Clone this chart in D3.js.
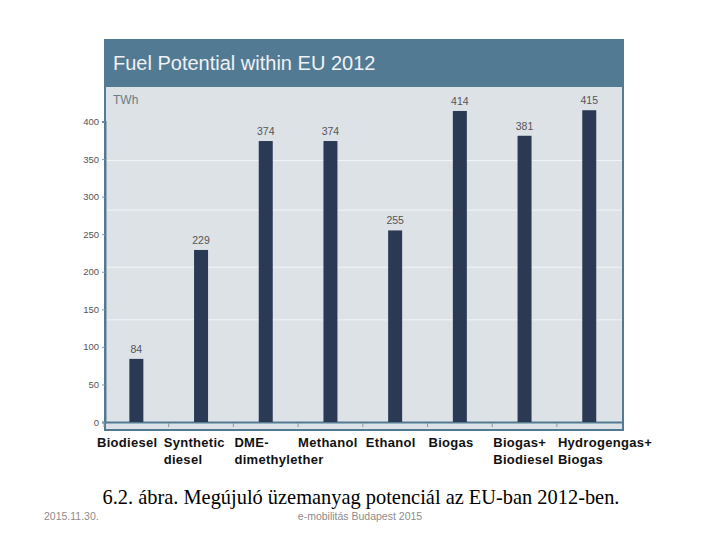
<!DOCTYPE html>
<html>
<head>
<meta charset="utf-8">
<script src="https://cdn.jsdelivr.net/npm/d3@7"></script>
<style>
  body { margin: 0; background: #fff; }
  svg { display: block; }
</style>
</head>
<body>
<svg id="chart" width="720" height="540"></svg>
<script>
var categories = ["Biodiesel", "Synthetic diesel", "DME-dimethylether", "Methanol", "Ethanol", "Biogas", "Biogas+ Biodiesel", "Hydrogengas+ Biogas"];
var labelLines = [["Biodiesel"], ["Synthetic", "diesel"], ["DME-", "dimethylether"], ["Methanol"], ["Ethanol"], ["Biogas"], ["Biogas+", "Biodiesel"], ["Hydrogengas+", "Biogas"]];
var values = [84, 229, 374, 374, 255, 414, 381, 415];
var yTicks = [0, 50, 100, 150, 200, 250, 300, 350, 400];
var gridValues = [136, 206, 282, 348];

// label offsets from the band start (layout only)
var labelDx = [-7, -5, 1, 0, 3, 1, 1, 1];

var svg = d3.select("#chart");
var sans = "Liberation Sans, Arial, sans-serif";

// panel frame + header
svg.append("rect").attr("x", 104).attr("y", 39).attr("width", 520).attr("height", 392)
    .attr("fill", "#537a93");
svg.append("rect").attr("x", 106).attr("y", 87).attr("width", 516).attr("height", 342)
    .attr("fill", "#dce2e6");
svg.append("text").attr("x", 113).attr("y", 70)
    .attr("font-family", sans).attr("font-size", 20)
    .attr("fill", "#eef2f5").text("Fuel Potential within EU 2012");
svg.append("text").attr("x", 113).attr("y", 104)
    .attr("font-family", sans).attr("font-size", 12)
    .attr("fill", "#6b7b88").text("TWh");

var x = d3.scaleBand().domain(categories).range([104, 621.6]).paddingInner(0).paddingOuter(0);
var y = d3.scaleLinear().domain([0, 400]).range([422, 121.5]);
var barW = 14;

// faint gridlines
svg.append("g").selectAll("line").data(gridValues).enter().append("line")
    .attr("x1", 106).attr("x2", 622)
    .attr("y1", function(d) { return y(d); })
    .attr("y2", function(d) { return y(d); })
    .attr("stroke", "#f2f5f7").attr("stroke-width", 1);

// y axis
var yAxis = svg.append("g").attr("transform", "translate(105,0)")
    .call(d3.axisLeft(y).tickValues(yTicks).tickSize(3).tickPadding(3));
yAxis.select(".domain").attr("stroke", "#537a93").attr("stroke-width", 2);
yAxis.selectAll(".tick line").attr("stroke", "#8a98a4");
yAxis.selectAll("text").attr("font-family", sans)
    .attr("font-size", 9.5).attr("fill", "#555");

// x axis baseline and ticks at band starts
svg.append("line").attr("x1", 105).attr("x2", 622).attr("y1", 422.5).attr("y2", 422.5)
    .attr("stroke", "#537a93").attr("stroke-width", 2);
svg.append("g").selectAll("line").data(categories).enter().append("line")
    .attr("x1", function(d) { return x(d); })
    .attr("x2", function(d) { return x(d); })
    .attr("y1", 423).attr("y2", 427)
    .attr("stroke", "#8a98a4");

// bars
svg.append("g").selectAll("rect").data(values).enter().append("rect")
    .attr("x", function(d, i) { return x(categories[i]) + x.bandwidth() / 2 - barW / 2; })
    .attr("y", function(d) { return y(d); })
    .attr("width", barW)
    .attr("height", function(d) { return y(0) - y(d); })
    .attr("fill", "#2a3a55");

// value labels
svg.append("g").selectAll("text").data(values).enter().append("text")
    .attr("x", function(d, i) { return x(categories[i]) + x.bandwidth() / 2; })
    .attr("y", function(d) { return y(d) - 6; })
    .attr("text-anchor", "middle")
    .attr("font-family", sans).attr("font-size", 10.5)
    .attr("fill", "#555").text(function(d) { return d; });

// category labels
var cat = svg.append("g").selectAll("text").data(labelLines).enter().append("text")
    .attr("x", function(d, i) { return x(categories[i]) + labelDx[i]; })
    .attr("y", 447)
    .attr("font-family", sans).attr("font-size", 13)
    .attr("letter-spacing", 0.3)
    .attr("font-weight", "bold").attr("fill", "#111");
cat.selectAll("tspan").data(function(d) { return d; }).enter().append("tspan")
    .attr("x", function() { return d3.select(this.parentNode).attr("x"); })
    .attr("dy", function(d, i) { return i === 0 ? 0 : 17; })
    .text(function(d) { return d; });

// caption and footer
svg.append("text").attr("x", 361).attr("y", 504).attr("text-anchor", "middle")
    .attr("font-family", "Liberation Serif, Times New Roman, serif").attr("font-size", 20.4)
    .attr("fill", "#000").text("6.2. ábra. Megújuló üzemanyag potenciál az EU-ban 2012-ben.");
svg.append("text").attr("x", 44).attr("y", 520)
    .attr("font-family", sans).attr("font-size", 10.5)
    .attr("fill", "#8c8c8c").text("2015.11.30.");
svg.append("text").attr("x", 360).attr("y", 520).attr("text-anchor", "middle")
    .attr("font-family", sans).attr("font-size", 10.5)
    .attr("fill", "#8c8c8c").text("e-mobilitás Budapest 2015");
</script>
</body>
</html>
